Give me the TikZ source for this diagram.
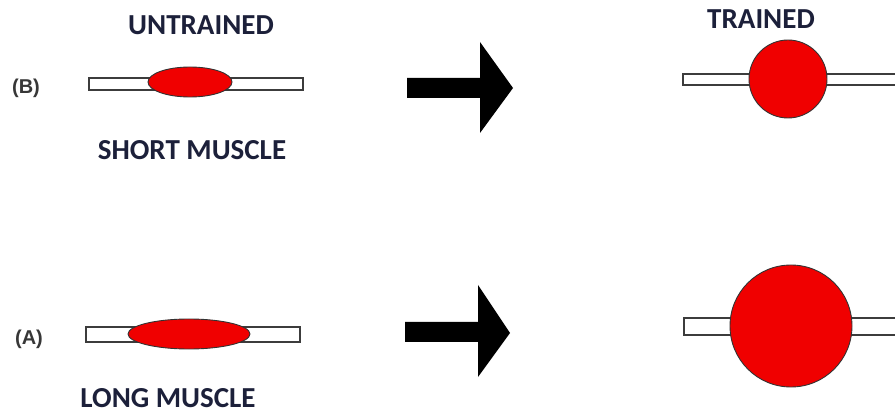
\documentclass[tikz,border=0pt]{standalone}
\usepackage{fontspec}
\setmainfont{Carlito}
\newfontfamily\labelfont{Liberation Sans}
\definecolor{titlenavy}{RGB}{28,32,58}
\definecolor{musclered}{RGB}{240,0,0}
\definecolor{tendonedge}{RGB}{60,60,60}
\definecolor{labelgray}{RGB}{55,55,55}
\begin{document}
\begin{tikzpicture}[x=1pt,y=-1pt,
  title/.style={font=\fontsize{29}{31}\selectfont\bfseries, text=titlenavy, inner sep=0pt, anchor=center},
  rowlabel/.style={font=\labelfont\bfseries\fontsize{20}{22}\selectfont, text=labelgray, inner sep=0pt},
  tendon/.style={draw=tendonedge, fill=white, line width=1.6pt},
  belly/.style={draw=black!80, fill=musclered, line width=0.9pt},
  bigarrow/.style={fill=black, draw=none}]
  \useasboundingbox (0,0) rectangle (895,414);

  % headings and captions
  \node[title] (untrained) at (201,25) {UNTRAINED};
  \node[title] (trained) at (761,19) {TRAINED};
  \node[title] (short) at (192,150) {SHORT MUSCLE};
  \node[title] (long) at (168,398) {LONG MUSCLE};
  \node[rowlabel] (labB) at (26,88) {(B)};
  \node[rowlabel] (labA) at (29,339) {(A)};

  % row B, untrained: short tendons with a small belly
  \draw[tendon] (89,78) rectangle (303,90);
  \draw[belly] (190,82) ellipse [x radius=42, y radius=15];

  % row B, trained
  \draw[tendon] (683,74) rectangle (900,85);
  \draw[belly] (788,79) circle [radius=39];

  % row A, untrained: longer belly
  \draw[tendon] (86,327) rectangle (300,342);
  \draw[belly] (189,334) ellipse [x radius=61, y radius=15];

  % row A, trained
  \draw[tendon] (684,318) rectangle (900,335);
  \draw[belly] (791,326) circle [radius=61];

  % block arrows between the states
  \fill[bigarrow] (407,78) -- (480,78) -- (480,42) -- (513,88) -- (480,133)
        -- (480,98) -- (407,98) -- cycle;
  \fill[bigarrow] (405,322) -- (478,322) -- (478,285) -- (510,333) -- (478,377)
        -- (478,342) -- (405,342) -- cycle;
\end{tikzpicture}
\end{document}
